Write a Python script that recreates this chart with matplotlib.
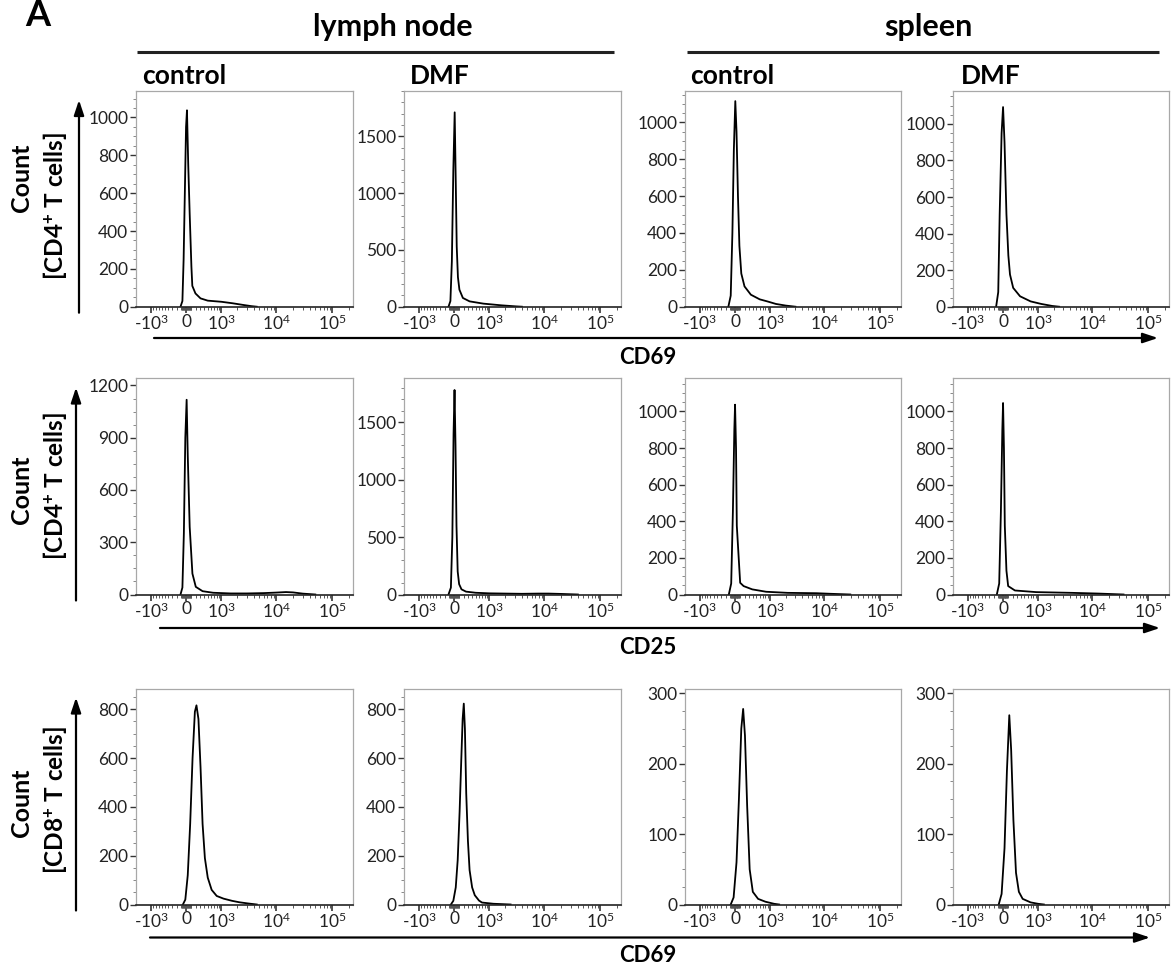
import numpy as np
import matplotlib
matplotlib.use("Agg")
import matplotlib.pyplot as plt
from matplotlib.ticker import FixedLocator, AutoMinorLocator, NullFormatter, FixedFormatter

plt.rcParams['font.family'] = ['Lato', 'DejaVu Sans']
plt.rcParams['mathtext.fontset'] = 'custom'
plt.rcParams['mathtext.rm'] = 'Lato'
plt.rcParams['mathtext.bf'] = 'Lato:bold'
plt.rcParams['mathtext.it'] = 'Lato:italic'

# ---------------- data ----------------
tissues = ["lymph node", "spleen"]
conditions = ["control", "DMF", "control", "DMF"]
row_markers = ["CD69", "CD25", "CD69"]
row_cells = ["[CD4$^{\\mathbf{+}}$ T cells]", "[CD4$^{\\mathbf{+}}$ T cells]", "[CD8$^{\\mathbf{+}}$ T cells]"]

x_major = [-1000, 0, 1000, 10000, 100000]
x_major_labels = ["-$\\mathregular{10^3}$", "0", "$\\mathregular{10^3}$",
                  "$\\mathregular{10^4}$", "$\\mathregular{10^5}$"]

# row 1: CD4 T cells, CD69
ln_ctrl_cd4_cd69_x = [-120, -80, -55, -30, -5, 14, 40, 70, 106, 125, 193, 309, 500, 1000, 1650, 2600, 3600, 4500]
ln_ctrl_cd4_cd69_y = [0, 30, 250, 600, 950, 1038, 750, 490, 211, 110, 70, 44, 32, 26, 18, 9, 3, 0]
ln_dmf_cd4_cd69_x = [-120, -80, -50, -20, 8, 30, 50, 75, 106, 180, 335, 750, 1700, 3100, 4000]
ln_dmf_cd4_cd69_y = [0, 50, 400, 1200, 1712, 1100, 530, 260, 150, 77, 47, 27, 12, 3, 0]
sp_ctrl_cd4_cd69_x = [-140, -90, -55, -25, 5, 30, 60, 90, 130, 200, 350, 600, 900, 1300, 2000, 3000]
sp_ctrl_cd4_cd69_y = [0, 60, 400, 850, 1115, 950, 600, 330, 180, 110, 65, 40, 28, 15, 6, 0]
sp_dmf_cd4_cd69_x = [-145, -100, -70, -30, 0, 30, 70, 110, 145, 215, 380, 700, 1160, 1870, 2500]
sp_dmf_cd4_cd69_y = [0, 80, 506, 950, 1092, 900, 506, 280, 176, 103, 57, 29, 15, 4, 0]

# row 2: CD4 T cells, CD25
ln_ctrl_cd4_cd25_x = [-120, -80, -50, -20, 7, 30, 70, 127, 200, 360, 670, 1500, 3000, 6000, 10000, 15000, 20000, 30000, 50000]
ln_ctrl_cd4_cd25_y = [0, 40, 350, 900, 1118, 800, 388, 120, 44, 19, 10, 6, 6, 8, 11, 14, 12, 5, 0]
ln_dmf_cd4_cd25_x = [-120, -70, -40, -15, 5, 25, 45, 70, 100, 150, 250, 500, 1000, 2000, 4000, 8000, 12000, 20000, 40000]
ln_dmf_cd4_cd25_y = [0, 60, 500, 1400, 1780, 1300, 600, 200, 90, 45, 25, 15, 10, 8, 6, 8, 8, 5, 0]
sp_ctrl_cd4_cd25_x = [-130, -80, -45, -15, 0, 20, 36, 106, 180, 385, 830, 2160, 7200, 12400, 29000]
sp_ctrl_cd4_cd25_y = [0, 60, 450, 900, 1037, 800, 376, 64, 46, 28, 15, 9, 7, 4, 0]
sp_dmf_cd4_cd25_x = [-130, -80, -45, -15, 0, 18, 36, 70, 106, 255, 920, 4300, 13000, 36000]
sp_dmf_cd4_cd25_y = [0, 60, 450, 900, 1046, 800, 376, 130, 46, 22, 13, 9, 5, 0]

# row 3: CD8 T cells, CD69
ln_ctrl_cd8_cd69_x = [-70, -20, 30, 80, 130, 180, 215, 260, 310, 360, 420, 500, 620, 800, 1100, 1600, 2200, 3200, 4500]
ln_ctrl_cd8_cd69_y = [0, 20, 120, 330, 600, 790, 816, 760, 560, 330, 190, 110, 60, 35, 24, 15, 9, 4, 0]
ln_dmf_cd8_cd69_x = [-70, -20, 30, 70, 110, 145, 175, 200, 225, 255, 295, 335, 400, 472, 600, 700, 1200, 2500]
ln_dmf_cd8_cd69_y = [0, 15, 70, 182, 380, 591, 760, 823, 720, 455, 260, 141, 70, 38, 16, 8, 3, 0]
sp_ctrl_cd8_cd69_x = [-90, -30, 30, 80, 130, 170, 210, 260, 320, 400, 550, 800, 1200, 1500]
sp_ctrl_cd8_cd69_y = [0, 10, 60, 150, 250, 278, 240, 140, 50, 18, 8, 4, 1, 0]
sp_dmf_cd8_cd69_x = [-90, -30, 30, 80, 130, 170, 220, 280, 350, 450, 700, 1000, 1300]
sp_dmf_cd8_cd69_y = [0, 15, 80, 190, 269, 220, 120, 45, 18, 8, 3, 1, 0]

y_top = [[1140, 1900, 1170, 1180],
         [1240, 1880, 1180, 1180],
         [885, 885, 307, 307]]
y_ticks = [[[0, 200, 400, 600, 800, 1000], [0, 500, 1000, 1500],
            [0, 200, 400, 600, 800, 1000], [0, 200, 400, 600, 800, 1000]],
           [[0, 300, 600, 900, 1200], [0, 500, 1000, 1500],
            [0, 200, 400, 600, 800, 1000], [0, 200, 400, 600, 800, 1000]],
           [[0, 200, 400, 600, 800], [0, 200, 400, 600, 800],
            [0, 100, 200, 300], [0, 100, 200, 300]]]

curves = [[(ln_ctrl_cd4_cd69_x, ln_ctrl_cd4_cd69_y), (ln_dmf_cd4_cd69_x, ln_dmf_cd4_cd69_y),
           (sp_ctrl_cd4_cd69_x, sp_ctrl_cd4_cd69_y), (sp_dmf_cd4_cd69_x, sp_dmf_cd4_cd69_y)],
          [(ln_ctrl_cd4_cd25_x, ln_ctrl_cd4_cd25_y), (ln_dmf_cd4_cd25_x, ln_dmf_cd4_cd25_y),
           (sp_ctrl_cd4_cd25_x, sp_ctrl_cd4_cd25_y), (sp_dmf_cd4_cd25_x, sp_dmf_cd4_cd25_y)],
          [(ln_ctrl_cd8_cd69_x, ln_ctrl_cd8_cd69_y), (ln_dmf_cd8_cd69_x, ln_dmf_cd8_cd69_y),
           (sp_ctrl_cd8_cd69_x, sp_ctrl_cd8_cd69_y), (sp_dmf_cd8_cd69_x, sp_dmf_cd8_cd69_y)]]

# ---------------- layout ----------------
W, H = 1171, 973
fig = plt.figure(figsize=(W / 100, H / 100), dpi=100)

ov = fig.add_axes([0, 0, 1, 1])
ov.set_xlim(0, W)
ov.set_ylim(H, 0)
ov.axis('off')

XMIN, XMAX = -1940, 235000
C = 500.0


def fwd(x):
    return np.arcsinh(np.asarray(x, dtype=float) / C)


def inv(y):
    return C * np.sinh(np.asarray(y, dtype=float))


x_minor = ([-s for s in range(100, 1000, 100)] + [-s for s in range(10, 100, 10)] +
           list(range(10, 100, 10)) + list(range(100, 1000, 100)) +
           list(range(2000, 10000, 1000)) + list(range(20000, 100000, 10000)) + [200000])

col_left = [136, 404, 685, 953]
col_width = [217, 217, 216, 216]
row_top = [91, 378.5, 688.5]
row_bot = [306.7, 594.5, 904.5]

for r in range(3):
    for c in range(4):
        l = col_left[c]
        w = col_width[c]
        t = row_top[r]
        b = row_bot[r]
        ax = fig.add_axes([l / W, 1 - b / H, w / W, (b - t) / H])
        ax.set_xscale('function', functions=(fwd, inv))
        ax.set_xlim(XMIN, XMAX)
        ax.set_ylim(0, y_top[r][c])
        xs, ys = curves[r][c]
        ax.plot(xs, ys, color='black', lw=1.3, solid_joinstyle='round')

        ax.xaxis.set_major_locator(FixedLocator(x_major))
        ax.xaxis.set_major_formatter(FixedFormatter(x_major_labels))
        ax.xaxis.set_minor_locator(FixedLocator(x_minor))
        ax.xaxis.set_minor_formatter(NullFormatter())
        ax.yaxis.set_major_locator(FixedLocator(y_ticks[r][c]))
        step = y_ticks[r][c][1] - y_ticks[r][c][0]
        ax.yaxis.set_minor_locator(AutoMinorLocator(5 if step == 500 else 4))

        for s in ['top', 'right', 'left']:
            ax.spines[s].set_color('#a8a8a8')
            ax.spines[s].set_linewidth(0.9)
        ax.spines['bottom'].set_color('#222222')
        ax.spines['bottom'].set_linewidth(1.2)

        ax.tick_params(axis='y', which='major', direction='out', length=4, width=1.0,
                       color='#333333', labelsize=12.5, labelcolor='#222222', pad=1.5)
        ax.tick_params(axis='y', which='minor', direction='out', length=2.2, width=0.7,
                       color='#888888')
        ax.tick_params(axis='x', which='major', direction='out', length=4, width=1.1,
                       color='#222222', labelsize=12.5, labelcolor='#222222', pad=1.0)
        ax.tick_params(axis='x', which='minor', direction='out', length=2.5, width=0.7,
                       color='#555555')
        ax.set_facecolor('white')

# ---------------- annotations ----------------
ov.text(25, 26, "A", fontsize=26, fontweight='bold', ha='left', va='baseline')
ov.text(393, 36, tissues[0], fontsize=22, fontweight='bold', ha='center', va='baseline')
ov.text(928, 36, tissues[1], fontsize=22, fontweight='bold', ha='center', va='baseline')
ov.plot([137, 614], [52, 52], color='#222222', lw=2.2, solid_capstyle='butt')
ov.plot([687, 1159], [52, 52], color='#222222', lw=2.2, solid_capstyle='butt')

for xpos, lab in zip([142, 410, 690, 961], conditions):
    ov.text(xpos, 84, lab, fontsize=19, fontweight='bold', ha='left', va='baseline')

# y-axis labels and arrows
count_y = [178, 490, 803]
cells_y = [206, 486, 800]
arrow_x = [79, 76, 76]
for r in range(3):
    ov.text(22, count_y[r], "Count", fontsize=18, fontweight='bold', rotation=90,
            ha='center', va='center')
    ov.text(55, cells_y[r], row_cells[r], fontsize=17.5, fontweight='bold', rotation=90,
            ha='center', va='center')
    ov.annotate('', xy=(arrow_x[r], row_top[r] + 9), xytext=(arrow_x[r], row_bot[r] + 6),
                arrowprops=dict(arrowstyle='-|>,head_length=0.9,head_width=0.3', lw=1.6,
                                color='black', shrinkA=0, shrinkB=0))

# x-axis arrows and marker labels
xarrow_y = [338, 628, 937.5]
xarrow_start = [154, 160, 150]
xarrow_end = [1158, 1160, 1150]
xlabel_y = [357, 647, 955]
for r in range(3):
    ov.annotate('', xy=(xarrow_end[r], xarrow_y[r]), xytext=(xarrow_start[r], xarrow_y[r]),
                arrowprops=dict(arrowstyle='-|>,head_length=0.9,head_width=0.3', lw=1.6,
                                color='black', shrinkA=0, shrinkB=0))
    ov.text(648, xlabel_y[r], row_markers[r], fontsize=16, fontweight='bold',
            ha='center', va='center')

fig.savefig("out.png", dpi=100)
